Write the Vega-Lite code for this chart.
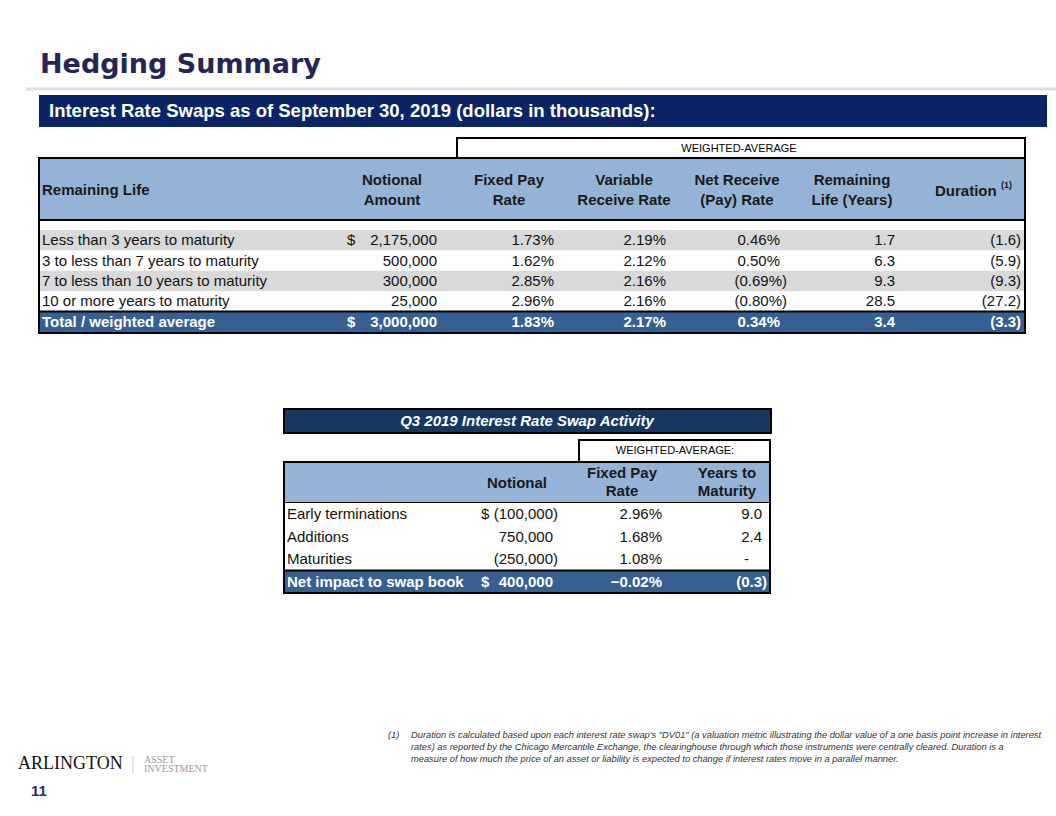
{
  "$schema": "https://vega.github.io/schema/vega-lite/v6.json",
  "width": 1056,
  "height": 816,
  "padding": 0,
  "autosize": {"type": "none"},
  "background": "#ffffff",
  "config": {
    "view": {"stroke": null},
    "axis": {"disable": true},
    "text": {"font": "Liberation Sans"}
  },
  "datasets": {
    "t1": [
      {"life": "Less than 3 years to maturity", "currency": "$", "notional": 2175000, "fixed": 0.0173, "variable": 0.0219, "net": 0.0046, "remaining": 1.7, "duration": -1.6, "kind": "body"},
      {"life": "3 to less than 7 years to maturity", "currency": "", "notional": 500000, "fixed": 0.0162, "variable": 0.0212, "net": 0.0050, "remaining": 6.3, "duration": -5.9, "kind": "body"},
      {"life": "7 to less than 10 years to maturity", "currency": "", "notional": 300000, "fixed": 0.0285, "variable": 0.0216, "net": -0.0069, "remaining": 9.3, "duration": -9.3, "kind": "body"},
      {"life": "10 or more years to maturity", "currency": "", "notional": 25000, "fixed": 0.0296, "variable": 0.0216, "net": -0.0080, "remaining": 28.5, "duration": -27.2, "kind": "body"},
      {"life": "Total / weighted average", "currency": "$", "notional": 3000000, "fixed": 0.0183, "variable": 0.0217, "net": 0.0034, "remaining": 3.4, "duration": -3.3, "kind": "total"}
    ],
    "t2": [
      {"activity": "Early terminations", "currency": "$", "notional": -100000, "fixed": 0.0296, "years": 9.0, "kind": "body"},
      {"activity": "Additions", "currency": "", "notional": 750000, "fixed": 0.0168, "years": 2.4, "kind": "body"},
      {"activity": "Maturities", "currency": "", "notional": -250000, "fixed": 0.0108, "years": null, "kind": "body"},
      {"activity": "Net impact to swap book", "currency": "$", "notional": 400000, "fixed": -0.0002, "years": -0.3, "kind": "total"}
    ]
  },
  "data": {"values": [{}]},
  "resolve": {"scale": {"y": "independent"}},
  "layer": [
    {"mark": {"type": "text", "align": "left", "baseline": "alphabetic", "font": "DejaVu Sans", "fontSize": 27, "fontWeight": "bold", "color": "#24265a"},
     "encoding": {"x": {"datum": 40, "type": "quantitative", "scale": {"domain": [0, 1056], "nice": false, "zero": false}}, "y": {"datum": 73, "type": "quantitative", "scale": {"domain": [0, 816], "nice": false, "zero": false, "reverse": true}}, "text": {"value": "Hedging Summary"}}},
    {"mark": {"type": "rule", "stroke": "#e0e0e0", "strokeWidth": 3},
     "encoding": {"x": {"datum": 26, "type": "quantitative", "scale": {"domain": [0, 1056], "nice": false, "zero": false}}, "x2": {"datum": 1056}, "y": {"datum": 89, "type": "quantitative", "scale": {"domain": [0, 816], "nice": false, "zero": false, "reverse": true}}}},
    {"mark": {"type": "rect", "fill": "#0b2466"},
     "encoding": {"x": {"datum": 39, "type": "quantitative", "scale": {"domain": [0, 1056], "nice": false, "zero": false}}, "x2": {"datum": 1047}, "y": {"datum": 95, "type": "quantitative", "scale": {"domain": [0, 816], "nice": false, "zero": false, "reverse": true}}, "y2": {"datum": 127}}},
    {"mark": {"type": "text", "align": "left", "baseline": "middle", "fontSize": 18.5, "fontWeight": "bold", "color": "#ffffff"},
     "encoding": {"x": {"datum": 49, "type": "quantitative", "scale": {"domain": [0, 1056], "nice": false, "zero": false}}, "y": {"datum": 111, "type": "quantitative", "scale": {"domain": [0, 816], "nice": false, "zero": false, "reverse": true}}, "text": {"value": "Interest Rate Swaps as of September 30, 2019 (dollars in thousands):"}}},

    {"mark": {"type": "rect", "fill": "#ffffff", "stroke": "#000000", "strokeWidth": 2},
     "encoding": {"x": {"datum": 457, "type": "quantitative", "scale": {"domain": [0, 1056], "nice": false, "zero": false}}, "x2": {"datum": 1025}, "y": {"datum": 138, "type": "quantitative", "scale": {"domain": [0, 816], "nice": false, "zero": false, "reverse": true}}, "y2": {"datum": 158}}},
    {"mark": {"type": "text", "align": "center", "baseline": "middle", "fontSize": 11, "color": "#000000"},
     "encoding": {"x": {"datum": 739, "type": "quantitative", "scale": {"domain": [0, 1056], "nice": false, "zero": false}}, "y": {"datum": 149, "type": "quantitative", "scale": {"domain": [0, 816], "nice": false, "zero": false, "reverse": true}}, "text": {"value": "WEIGHTED-AVERAGE"}}},
    {"mark": {"type": "rect", "fill": "#95b3d7", "stroke": "#000000", "strokeWidth": 2},
     "encoding": {"x": {"datum": 39, "type": "quantitative", "scale": {"domain": [0, 1056], "nice": false, "zero": false}}, "x2": {"datum": 1025}, "y": {"datum": 158, "type": "quantitative", "scale": {"domain": [0, 816], "nice": false, "zero": false, "reverse": true}}, "y2": {"datum": 220}}},
    {"data": {"name": "t1"},
     "transform": [{"window": [{"op": "row_number", "as": "rowIndex"}]}],
     "mark": {"type": "rect"},
     "encoding": {"x": {"datum": 39, "type": "quantitative", "scale": {"domain": [0, 1056], "nice": false, "zero": false}}, "x2": {"datum": 1025},
       "y": {"field": "life", "type": "nominal", "scale": {"type": "band", "domain": ["Less than 3 years to maturity", "3 to less than 7 years to maturity", "7 to less than 10 years to maturity", "10 or more years to maturity", "Total / weighted average"], "range": [230, 332], "paddingInner": 0, "paddingOuter": 0}},
       "color": {"condition": [{"test": "datum.kind === 'total'", "value": "#366092"}, {"test": "datum.rowIndex % 2 === 1", "value": "#d9d9d9"}], "value": "#ffffff"}}},
    {"mark": {"type": "rule", "stroke": "#000000", "strokeWidth": 2},
     "encoding": {"x": {"datum": 39, "type": "quantitative", "scale": {"domain": [0, 1056], "nice": false, "zero": false}}, "x2": {"datum": 1025}, "y": {"datum": 311.6, "type": "quantitative", "scale": {"domain": [0, 816], "nice": false, "zero": false, "reverse": true}}}},
    {"mark": {"type": "rect", "filled": false, "stroke": "#000000", "strokeWidth": 2},
     "encoding": {"x": {"datum": 39, "type": "quantitative", "scale": {"domain": [0, 1056], "nice": false, "zero": false}}, "x2": {"datum": 1025}, "y": {"datum": 158, "type": "quantitative", "scale": {"domain": [0, 816], "nice": false, "zero": false, "reverse": true}}, "y2": {"datum": 333}}},

    {"mark": {"type": "text", "align": "left", "baseline": "middle", "fontSize": 15, "fontWeight": "bold", "color": "#1a1a1a"},
     "encoding": {"x": {"datum": 42, "type": "quantitative", "scale": {"domain": [0, 1056], "nice": false, "zero": false}}, "y": {"datum": 190, "type": "quantitative", "scale": {"domain": [0, 816], "nice": false, "zero": false, "reverse": true}}, "text": {"value": "Remaining Life"}}},
    {"mark": {"type": "text", "align": "center", "baseline": "middle", "fontSize": 15, "fontWeight": "bold", "lineHeight": 20, "color": "#1a1a1a"},
     "encoding": {"x": {"datum": 392, "type": "quantitative", "scale": {"domain": [0, 1056], "nice": false, "zero": false}}, "y": {"datum": 180, "type": "quantitative", "scale": {"domain": [0, 816], "nice": false, "zero": false, "reverse": true}}, "text": {"value": ["Notional", "Amount"]}}},
    {"mark": {"type": "text", "align": "center", "baseline": "middle", "fontSize": 15, "fontWeight": "bold", "lineHeight": 20, "color": "#1a1a1a"},
     "encoding": {"x": {"datum": 509, "type": "quantitative", "scale": {"domain": [0, 1056], "nice": false, "zero": false}}, "y": {"datum": 180, "type": "quantitative", "scale": {"domain": [0, 816], "nice": false, "zero": false, "reverse": true}}, "text": {"value": ["Fixed Pay", "Rate"]}}},
    {"mark": {"type": "text", "align": "center", "baseline": "middle", "fontSize": 15, "fontWeight": "bold", "lineHeight": 20, "color": "#1a1a1a"},
     "encoding": {"x": {"datum": 624, "type": "quantitative", "scale": {"domain": [0, 1056], "nice": false, "zero": false}}, "y": {"datum": 180, "type": "quantitative", "scale": {"domain": [0, 816], "nice": false, "zero": false, "reverse": true}}, "text": {"value": ["Variable", "Receive Rate"]}}},
    {"mark": {"type": "text", "align": "center", "baseline": "middle", "fontSize": 15, "fontWeight": "bold", "lineHeight": 20, "color": "#1a1a1a"},
     "encoding": {"x": {"datum": 737, "type": "quantitative", "scale": {"domain": [0, 1056], "nice": false, "zero": false}}, "y": {"datum": 180, "type": "quantitative", "scale": {"domain": [0, 816], "nice": false, "zero": false, "reverse": true}}, "text": {"value": ["Net Receive", "(Pay) Rate"]}}},
    {"mark": {"type": "text", "align": "center", "baseline": "middle", "fontSize": 15, "fontWeight": "bold", "lineHeight": 20, "color": "#1a1a1a"},
     "encoding": {"x": {"datum": 852, "type": "quantitative", "scale": {"domain": [0, 1056], "nice": false, "zero": false}}, "y": {"datum": 180, "type": "quantitative", "scale": {"domain": [0, 816], "nice": false, "zero": false, "reverse": true}}, "text": {"value": ["Remaining", "Life (Years)"]}}},
    {"mark": {"type": "text", "align": "left", "baseline": "middle", "fontSize": 15, "fontWeight": "bold", "color": "#1a1a1a"},
     "encoding": {"x": {"datum": 935, "type": "quantitative", "scale": {"domain": [0, 1056], "nice": false, "zero": false}}, "y": {"datum": 191, "type": "quantitative", "scale": {"domain": [0, 816], "nice": false, "zero": false, "reverse": true}}, "text": {"value": "Duration"}}},
    {"mark": {"type": "text", "align": "left", "baseline": "middle", "fontSize": 9, "fontWeight": "bold", "color": "#1a1a1a"},
     "encoding": {"x": {"datum": 1001, "type": "quantitative", "scale": {"domain": [0, 1056], "nice": false, "zero": false}}, "y": {"datum": 185, "type": "quantitative", "scale": {"domain": [0, 816], "nice": false, "zero": false, "reverse": true}}, "text": {"value": "(1)"}}},

    {"data": {"name": "t1"},
     "mark": {"type": "text", "align": "left", "baseline": "middle", "fontSize": 15, "fontWeight": {"expr": "datum.kind === 'total' ? 'bold' : 'normal'"}},
     "encoding": {"x": {"datum": 42, "type": "quantitative", "scale": {"domain": [0, 1056], "nice": false, "zero": false}},
       "y": {"field": "life", "type": "nominal", "scale": {"type": "band", "domain": ["Less than 3 years to maturity", "3 to less than 7 years to maturity", "7 to less than 10 years to maturity", "10 or more years to maturity", "Total / weighted average"], "range": [230, 332], "paddingInner": 0, "paddingOuter": 0}},
       "text": {"field": "life"},
       "color": {"condition": {"test": "datum.kind === 'total'", "value": "#ffffff"}, "value": "#111111"}}},
    {"data": {"name": "t1"},
     "mark": {"type": "text", "align": "left", "baseline": "middle", "fontSize": 15, "fontWeight": {"expr": "datum.kind === 'total' ? 'bold' : 'normal'"}},
     "encoding": {"x": {"datum": 347, "type": "quantitative", "scale": {"domain": [0, 1056], "nice": false, "zero": false}},
       "y": {"field": "life", "type": "nominal", "scale": {"type": "band", "domain": ["Less than 3 years to maturity", "3 to less than 7 years to maturity", "7 to less than 10 years to maturity", "10 or more years to maturity", "Total / weighted average"], "range": [230, 332], "paddingInner": 0, "paddingOuter": 0}},
       "text": {"field": "currency"},
       "color": {"condition": {"test": "datum.kind === 'total'", "value": "#ffffff"}, "value": "#111111"}}},
    {"data": {"name": "t1"},
     "mark": {"type": "text", "align": "right", "baseline": "middle", "fontSize": 15, "fontWeight": {"expr": "datum.kind === 'total' ? 'bold' : 'normal'"}},
     "encoding": {"x": {"datum": 437, "type": "quantitative", "scale": {"domain": [0, 1056], "nice": false, "zero": false}},
       "y": {"field": "life", "type": "nominal", "scale": {"type": "band", "domain": ["Less than 3 years to maturity", "3 to less than 7 years to maturity", "7 to less than 10 years to maturity", "10 or more years to maturity", "Total / weighted average"], "range": [230, 332], "paddingInner": 0, "paddingOuter": 0}},
       "text": {"field": "notional", "type": "quantitative", "format": ",.0f"},
       "color": {"condition": {"test": "datum.kind === 'total'", "value": "#ffffff"}, "value": "#111111"}}},
    {"data": {"name": "t1"},
     "mark": {"type": "text", "align": "right", "baseline": "middle", "fontSize": 15, "fontWeight": {"expr": "datum.kind === 'total' ? 'bold' : 'normal'"}},
     "encoding": {"x": {"datum": 554, "type": "quantitative", "scale": {"domain": [0, 1056], "nice": false, "zero": false}},
       "y": {"field": "life", "type": "nominal", "scale": {"type": "band", "domain": ["Less than 3 years to maturity", "3 to less than 7 years to maturity", "7 to less than 10 years to maturity", "10 or more years to maturity", "Total / weighted average"], "range": [230, 332], "paddingInner": 0, "paddingOuter": 0}},
       "text": {"field": "fixed", "type": "quantitative", "format": ".2%"},
       "color": {"condition": {"test": "datum.kind === 'total'", "value": "#ffffff"}, "value": "#111111"}}},
    {"data": {"name": "t1"},
     "mark": {"type": "text", "align": "right", "baseline": "middle", "fontSize": 15, "fontWeight": {"expr": "datum.kind === 'total' ? 'bold' : 'normal'"}},
     "encoding": {"x": {"datum": 666, "type": "quantitative", "scale": {"domain": [0, 1056], "nice": false, "zero": false}},
       "y": {"field": "life", "type": "nominal", "scale": {"type": "band", "domain": ["Less than 3 years to maturity", "3 to less than 7 years to maturity", "7 to less than 10 years to maturity", "10 or more years to maturity", "Total / weighted average"], "range": [230, 332], "paddingInner": 0, "paddingOuter": 0}},
       "text": {"field": "variable", "type": "quantitative", "format": ".2%"},
       "color": {"condition": {"test": "datum.kind === 'total'", "value": "#ffffff"}, "value": "#111111"}}},
    {"data": {"name": "t1"},
     "mark": {"type": "text", "align": "right", "baseline": "middle", "fontSize": 15, "fontWeight": {"expr": "datum.kind === 'total' ? 'bold' : 'normal'"}, "dx": {"expr": "datum.net < 0 ? 7 : 0"}},
     "encoding": {"x": {"datum": 780, "type": "quantitative", "scale": {"domain": [0, 1056], "nice": false, "zero": false}},
       "y": {"field": "life", "type": "nominal", "scale": {"type": "band", "domain": ["Less than 3 years to maturity", "3 to less than 7 years to maturity", "7 to less than 10 years to maturity", "10 or more years to maturity", "Total / weighted average"], "range": [230, 332], "paddingInner": 0, "paddingOuter": 0}},
       "text": {"field": "net", "type": "quantitative", "format": "(.2%"},
       "color": {"condition": {"test": "datum.kind === 'total'", "value": "#ffffff"}, "value": "#111111"}}},
    {"data": {"name": "t1"},
     "mark": {"type": "text", "align": "right", "baseline": "middle", "fontSize": 15, "fontWeight": {"expr": "datum.kind === 'total' ? 'bold' : 'normal'"}},
     "encoding": {"x": {"datum": 895, "type": "quantitative", "scale": {"domain": [0, 1056], "nice": false, "zero": false}},
       "y": {"field": "life", "type": "nominal", "scale": {"type": "band", "domain": ["Less than 3 years to maturity", "3 to less than 7 years to maturity", "7 to less than 10 years to maturity", "10 or more years to maturity", "Total / weighted average"], "range": [230, 332], "paddingInner": 0, "paddingOuter": 0}},
       "text": {"field": "remaining", "type": "quantitative", "format": ".1f"},
       "color": {"condition": {"test": "datum.kind === 'total'", "value": "#ffffff"}, "value": "#111111"}}},
    {"data": {"name": "t1"},
     "mark": {"type": "text", "align": "right", "baseline": "middle", "fontSize": 15, "fontWeight": {"expr": "datum.kind === 'total' ? 'bold' : 'normal'"}},
     "encoding": {"x": {"datum": 1021, "type": "quantitative", "scale": {"domain": [0, 1056], "nice": false, "zero": false}},
       "y": {"field": "life", "type": "nominal", "scale": {"type": "band", "domain": ["Less than 3 years to maturity", "3 to less than 7 years to maturity", "7 to less than 10 years to maturity", "10 or more years to maturity", "Total / weighted average"], "range": [230, 332], "paddingInner": 0, "paddingOuter": 0}},
       "text": {"field": "duration", "type": "quantitative", "format": "(.1f"},
       "color": {"condition": {"test": "datum.kind === 'total'", "value": "#ffffff"}, "value": "#111111"}}},

    {"mark": {"type": "rect", "fill": "#17375e", "stroke": "#000000", "strokeWidth": 2},
     "encoding": {"x": {"datum": 284, "type": "quantitative", "scale": {"domain": [0, 1056], "nice": false, "zero": false}}, "x2": {"datum": 771}, "y": {"datum": 409, "type": "quantitative", "scale": {"domain": [0, 816], "nice": false, "zero": false, "reverse": true}}, "y2": {"datum": 433}}},
    {"mark": {"type": "text", "align": "center", "baseline": "middle", "fontSize": 15, "fontWeight": "bold", "fontStyle": "italic", "color": "#ffffff"},
     "encoding": {"x": {"datum": 527, "type": "quantitative", "scale": {"domain": [0, 1056], "nice": false, "zero": false}}, "y": {"datum": 421, "type": "quantitative", "scale": {"domain": [0, 816], "nice": false, "zero": false, "reverse": true}}, "text": {"value": "Q3 2019 Interest Rate Swap Activity"}}},
    {"mark": {"type": "rect", "fill": "#ffffff", "stroke": "#000000", "strokeWidth": 2},
     "encoding": {"x": {"datum": 579, "type": "quantitative", "scale": {"domain": [0, 1056], "nice": false, "zero": false}}, "x2": {"datum": 770}, "y": {"datum": 440, "type": "quantitative", "scale": {"domain": [0, 816], "nice": false, "zero": false, "reverse": true}}, "y2": {"datum": 462}}},
    {"mark": {"type": "text", "align": "center", "baseline": "middle", "fontSize": 11, "color": "#000000"},
     "encoding": {"x": {"datum": 675, "type": "quantitative", "scale": {"domain": [0, 1056], "nice": false, "zero": false}}, "y": {"datum": 451, "type": "quantitative", "scale": {"domain": [0, 816], "nice": false, "zero": false, "reverse": true}}, "text": {"value": "WEIGHTED-AVERAGE:"}}},
    {"mark": {"type": "rect", "fill": "#95b3d7", "stroke": "#000000", "strokeWidth": 2},
     "encoding": {"x": {"datum": 284, "type": "quantitative", "scale": {"domain": [0, 1056], "nice": false, "zero": false}}, "x2": {"datum": 770}, "y": {"datum": 462, "type": "quantitative", "scale": {"domain": [0, 816], "nice": false, "zero": false, "reverse": true}}, "y2": {"datum": 503}}},
    {"data": {"name": "t2"},
     "mark": {"type": "rect"},
     "encoding": {"x": {"datum": 284, "type": "quantitative", "scale": {"domain": [0, 1056], "nice": false, "zero": false}}, "x2": {"datum": 770},
       "y": {"field": "activity", "type": "nominal", "scale": {"type": "band", "domain": ["Early terminations", "Additions", "Maturities", "Net impact to swap book"], "range": [503, 593], "paddingInner": 0, "paddingOuter": 0}},
       "color": {"condition": {"test": "datum.kind === 'total'", "value": "#366092"}, "value": "#ffffff"}}},
    {"mark": {"type": "rule", "stroke": "#000000", "strokeWidth": 2},
     "encoding": {"x": {"datum": 284, "type": "quantitative", "scale": {"domain": [0, 1056], "nice": false, "zero": false}}, "x2": {"datum": 770}, "y": {"datum": 570.5, "type": "quantitative", "scale": {"domain": [0, 816], "nice": false, "zero": false, "reverse": true}}}},
    {"mark": {"type": "rect", "filled": false, "stroke": "#000000", "strokeWidth": 2},
     "encoding": {"x": {"datum": 284, "type": "quantitative", "scale": {"domain": [0, 1056], "nice": false, "zero": false}}, "x2": {"datum": 770}, "y": {"datum": 462, "type": "quantitative", "scale": {"domain": [0, 816], "nice": false, "zero": false, "reverse": true}}, "y2": {"datum": 593}}},
    {"mark": {"type": "text", "align": "center", "baseline": "middle", "fontSize": 15, "fontWeight": "bold", "color": "#1a1a1a"},
     "encoding": {"x": {"datum": 517, "type": "quantitative", "scale": {"domain": [0, 1056], "nice": false, "zero": false}}, "y": {"datum": 483, "type": "quantitative", "scale": {"domain": [0, 816], "nice": false, "zero": false, "reverse": true}}, "text": {"value": "Notional"}}},
    {"mark": {"type": "text", "align": "center", "baseline": "middle", "fontSize": 15, "fontWeight": "bold", "lineHeight": 18, "color": "#1a1a1a"},
     "encoding": {"x": {"datum": 622, "type": "quantitative", "scale": {"domain": [0, 1056], "nice": false, "zero": false}}, "y": {"datum": 473, "type": "quantitative", "scale": {"domain": [0, 816], "nice": false, "zero": false, "reverse": true}}, "text": {"value": ["Fixed Pay", "Rate"]}}},
    {"mark": {"type": "text", "align": "center", "baseline": "middle", "fontSize": 15, "fontWeight": "bold", "lineHeight": 18, "color": "#1a1a1a"},
     "encoding": {"x": {"datum": 727, "type": "quantitative", "scale": {"domain": [0, 1056], "nice": false, "zero": false}}, "y": {"datum": 473, "type": "quantitative", "scale": {"domain": [0, 816], "nice": false, "zero": false, "reverse": true}}, "text": {"value": ["Years to", "Maturity"]}}},

    {"data": {"name": "t2"},
     "mark": {"type": "text", "align": "left", "baseline": "middle", "fontSize": 15, "fontWeight": {"expr": "datum.kind === 'total' ? 'bold' : 'normal'"}},
     "encoding": {"x": {"datum": 287, "type": "quantitative", "scale": {"domain": [0, 1056], "nice": false, "zero": false}},
       "y": {"field": "activity", "type": "nominal", "scale": {"type": "band", "domain": ["Early terminations", "Additions", "Maturities", "Net impact to swap book"], "range": [503, 593], "paddingInner": 0, "paddingOuter": 0}},
       "text": {"field": "activity"},
       "color": {"condition": {"test": "datum.kind === 'total'", "value": "#ffffff"}, "value": "#111111"}}},
    {"data": {"name": "t2"},
     "mark": {"type": "text", "align": "left", "baseline": "middle", "fontSize": 15, "fontWeight": {"expr": "datum.kind === 'total' ? 'bold' : 'normal'"}},
     "encoding": {"x": {"datum": 481, "type": "quantitative", "scale": {"domain": [0, 1056], "nice": false, "zero": false}},
       "y": {"field": "activity", "type": "nominal", "scale": {"type": "band", "domain": ["Early terminations", "Additions", "Maturities", "Net impact to swap book"], "range": [503, 593], "paddingInner": 0, "paddingOuter": 0}},
       "text": {"field": "currency"},
       "color": {"condition": {"test": "datum.kind === 'total'", "value": "#ffffff"}, "value": "#111111"}}},
    {"data": {"name": "t2"},
     "mark": {"type": "text", "align": "right", "baseline": "middle", "fontSize": 15, "fontWeight": {"expr": "datum.kind === 'total' ? 'bold' : 'normal'"}, "dx": {"expr": "datum.notional < 0 ? 5 : 0"}},
     "encoding": {"x": {"datum": 553, "type": "quantitative", "scale": {"domain": [0, 1056], "nice": false, "zero": false}},
       "y": {"field": "activity", "type": "nominal", "scale": {"type": "band", "domain": ["Early terminations", "Additions", "Maturities", "Net impact to swap book"], "range": [503, 593], "paddingInner": 0, "paddingOuter": 0}},
       "text": {"field": "notional", "type": "quantitative", "format": "(,.0f"},
       "color": {"condition": {"test": "datum.kind === 'total'", "value": "#ffffff"}, "value": "#111111"}}},
    {"data": {"name": "t2"},
     "mark": {"type": "text", "align": "right", "baseline": "middle", "fontSize": 15, "fontWeight": {"expr": "datum.kind === 'total' ? 'bold' : 'normal'"}},
     "encoding": {"x": {"datum": 662, "type": "quantitative", "scale": {"domain": [0, 1056], "nice": false, "zero": false}},
       "y": {"field": "activity", "type": "nominal", "scale": {"type": "band", "domain": ["Early terminations", "Additions", "Maturities", "Net impact to swap book"], "range": [503, 593], "paddingInner": 0, "paddingOuter": 0}},
       "text": {"field": "fixed", "type": "quantitative", "format": ".2%"},
       "color": {"condition": {"test": "datum.kind === 'total'", "value": "#ffffff"}, "value": "#111111"}}},
    {"data": {"name": "t2"},
     "mark": {"type": "text", "align": "right", "baseline": "middle", "fontSize": 15, "fontWeight": {"expr": "datum.kind === 'total' ? 'bold' : 'normal'"}, "dx": {"expr": "datum.years === null ? -13 : (datum.years < 0 ? 5 : 0)"}},
     "encoding": {"x": {"datum": 762, "type": "quantitative", "scale": {"domain": [0, 1056], "nice": false, "zero": false}},
       "y": {"field": "activity", "type": "nominal", "scale": {"type": "band", "domain": ["Early terminations", "Additions", "Maturities", "Net impact to swap book"], "range": [503, 593], "paddingInner": 0, "paddingOuter": 0}},
       "text": {"condition": {"test": "datum.years === null", "value": "-"}, "field": "years", "type": "quantitative", "format": "(.1f"},
       "color": {"condition": {"test": "datum.kind === 'total'", "value": "#ffffff"}, "value": "#111111"}}},

    {"mark": {"type": "text", "align": "left", "baseline": "middle", "fontSize": 9.3, "fontStyle": "italic", "color": "#333333"},
     "encoding": {"x": {"datum": 388, "type": "quantitative", "scale": {"domain": [0, 1056], "nice": false, "zero": false}}, "y": {"datum": 735, "type": "quantitative", "scale": {"domain": [0, 816], "nice": false, "zero": false, "reverse": true}}, "text": {"value": "(1)"}}},
    {"mark": {"type": "text", "align": "left", "baseline": "middle", "fontSize": 9.3, "fontStyle": "italic", "lineHeight": 12, "color": "#333333"},
     "encoding": {"x": {"datum": 411, "type": "quantitative", "scale": {"domain": [0, 1056], "nice": false, "zero": false}}, "y": {"datum": 735, "type": "quantitative", "scale": {"domain": [0, 816], "nice": false, "zero": false, "reverse": true}},
       "text": {"value": ["Duration  is calculated based upon each interest rate swap's \"DV01\" (a valuation metric illustrating the dollar value of a one basis point increase in interest", "rates) as reported by the Chicago Mercantile Exchange, the clearinghouse through which those instruments were centrally cleared.  Duration is a", "measure  of how much  the price of an asset or liability is expected to change if interest rates move  in a parallel manner."]}}},
    {"mark": {"type": "text", "align": "left", "baseline": "alphabetic", "font": "Liberation Serif", "fontSize": 18, "color": "#111111"},
     "encoding": {"x": {"datum": 18, "type": "quantitative", "scale": {"domain": [0, 1056], "nice": false, "zero": false}}, "y": {"datum": 769, "type": "quantitative", "scale": {"domain": [0, 816], "nice": false, "zero": false, "reverse": true}}, "text": {"value": "ARLINGTON"}}},
    {"mark": {"type": "rule", "stroke": "#cccccc", "strokeWidth": 1},
     "encoding": {"x": {"datum": 133, "type": "quantitative", "scale": {"domain": [0, 1056], "nice": false, "zero": false}}, "y": {"datum": 756, "type": "quantitative", "scale": {"domain": [0, 816], "nice": false, "zero": false, "reverse": true}}, "y2": {"datum": 774}}},
    {"mark": {"type": "text", "align": "left", "baseline": "alphabetic", "font": "Liberation Serif", "fontSize": 10, "lineHeight": 9, "color": "#9a9a9a"},
     "encoding": {"x": {"datum": 144, "type": "quantitative", "scale": {"domain": [0, 1056], "nice": false, "zero": false}}, "y": {"datum": 763, "type": "quantitative", "scale": {"domain": [0, 816], "nice": false, "zero": false, "reverse": true}}, "text": {"value": ["ASSET", "INVESTMENT"]}}},
    {"mark": {"type": "text", "align": "left", "baseline": "middle", "fontSize": 15, "fontWeight": "bold", "color": "#2b2d63"},
     "encoding": {"x": {"datum": 31, "type": "quantitative", "scale": {"domain": [0, 1056], "nice": false, "zero": false}}, "y": {"datum": 791, "type": "quantitative", "scale": {"domain": [0, 816], "nice": false, "zero": false, "reverse": true}}, "text": {"value": "11"}}}
  ]
}
